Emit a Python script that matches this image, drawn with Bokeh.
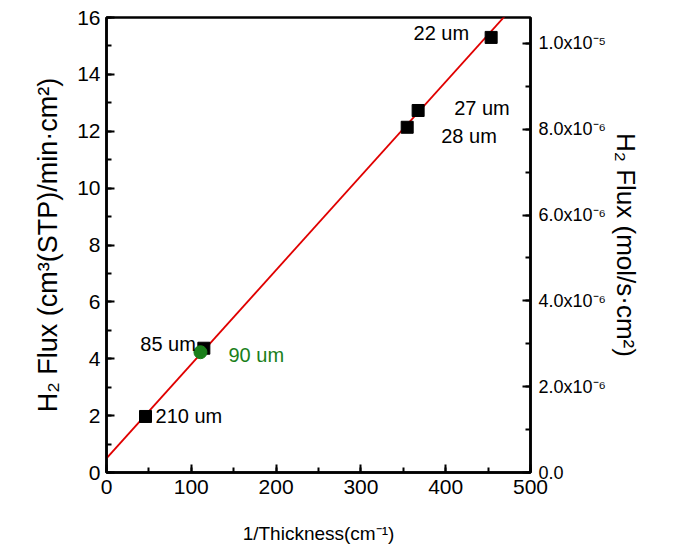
from bokeh.plotting import figure
from bokeh.models import (Range1d, LinearAxis, SingleIntervalTicker, FixedTicker,
                          CustomJSTickFormatter, ColumnDataSource)
from bokeh.core.properties import value
from bokeh.embed import file_html
from bokeh.resources import INLINE

# ---- data ----
inv_thickness = [453.6, 367.5, 354.6, 114.8, 46.0]           # 1/Thickness (cm^-1)
flux = [15.3, 12.73, 12.14, 4.37, 1.97]                        # H2 flux cm3(STP)/min.cm2
labels = ["22 um", "27 um", "28 um", "85 um", "210 um"]
green_x = [110.8]
green_y = [4.23]
green_label = ["90 um"]
fit_x = [0, 500]
fit_intercept = 0.5
fit_slope = 0.0331
right_ticks = [0, 2, 4, 6, 8, 10]        # in units of 1e-6 mol/s.cm2
right_tick_labels = ["0.0", "2.0x10\u207b\u2076", "4.0x10\u207b\u2076", "6.0x10\u207b\u2076",
                     "8.0x10\u207b\u2076", "1.0x10\u207b\u2075"]

FONT = "Liberation Sans"

p = figure(width=676, height=556, output_backend="svg", toolbar_location=None,
           x_range=Range1d(0, 500), y_range=Range1d(0, 16),
           min_border_left=106, min_border_right=146, min_border_top=17, min_border_bottom=84)
p.background_fill_color = "white"
p.border_fill_color = "white"
p.grid.visible = False
p.outline_line_color = "black"
p.outline_line_width = 2.5

p.extra_y_ranges = {"mol": Range1d(0, 10.606)}
raxis = LinearAxis(y_range_name="mol")
raxis.ticker = FixedTicker(ticks=right_ticks, minor_ticks=[1, 3, 5, 7, 9])
raxis.formatter = CustomJSTickFormatter(args=dict(labs=right_tick_labels, vals=right_ticks),
                                        code="var i = vals.indexOf(Math.round(tick)); return i >= 0 ? labs[i] : '';")
p.add_layout(raxis, "right")

p.xaxis.ticker = SingleIntervalTicker(interval=100, num_minor_ticks=2)
p.yaxis.ticker = SingleIntervalTicker(interval=2, num_minor_ticks=2)
p.xaxis.axis_label = "1/Thickness(cm\u207b\u00b9)"
p.yaxis[0].axis_label = "H\u2082 Flux (cm\u00b3(STP)/min\u00b7cm\u00b2)"
raxis.axis_label = "H\u2082 Flux (mol/s\u00b7cm\u00b2)"

for ax in [p.xaxis[0], p.yaxis[0], raxis]:
    ax.axis_line_width = 2.5
    ax.axis_line_color = "black"
    ax.major_tick_in = 8
    ax.major_tick_out = 0
    ax.minor_tick_in = 5
    ax.minor_tick_out = 0
    ax.major_tick_line_width = 2
    ax.minor_tick_line_width = 2
    ax.major_label_text_font = FONT
    ax.axis_label_text_font = FONT
    ax.axis_label_text_font_style = "normal"
    ax.major_label_text_color = "black"
    ax.axis_label_text_color = "black"

p.xaxis.major_label_text_font_size = "21px"
p.yaxis[0].major_label_text_font_size = "21px"
raxis.major_label_text_font_size = "18px"
p.xaxis.axis_label_text_font_size = "19px"
p.yaxis[0].axis_label_text_font_size = "27px"
raxis.axis_label_text_font_size = "26px"
p.xaxis.major_label_standoff = 7
p.xaxis.axis_label_standoff = 26
p.yaxis[0].major_label_standoff = 6
p.yaxis[0].axis_label_standoff = 11
raxis.major_label_standoff = 8
raxis.axis_label_standoff = 2

# fit line
fit_y = [fit_intercept + fit_slope * xv for xv in fit_x]
p.line(fit_x, fit_y, line_color="#e00000", line_width=1.8)

# data points
src = ColumnDataSource(dict(x=inv_thickness, y=flux, lab=labels))
p.scatter("x", "y", source=src, marker="square", size=12, fill_color="black", line_color="black")
p.scatter(green_x, green_y, marker="circle", size=13, fill_color="#1a7f1a", line_color="#1a7f1a")

# annotations (label offsets in px)
offs = {"22 um": (-22, -4, "right"), "27 um": (36, -2, "left"), "28 um": (34, 9, "left"),
        "85 um": (-8, -4, "right"), "210 um": (10, 0, "left")}
for xv, yv, lab in zip(inv_thickness, flux, labels):
    dx, dy, al = offs[lab]
    p.text([xv], [yv], text=[lab], x_offset=dx, y_offset=dy, text_align=al,
           text_baseline="middle", text_font=value(FONT), text_font_size="20px",
           text_color="black")
p.text(green_x, green_y, text=green_label, x_offset=28, y_offset=3, text_align="left",
       text_baseline="middle", text_font=value(FONT), text_font_size="20px", text_color="#1a7f1a")

open("out.html", "w").write(file_html(p, INLINE))
